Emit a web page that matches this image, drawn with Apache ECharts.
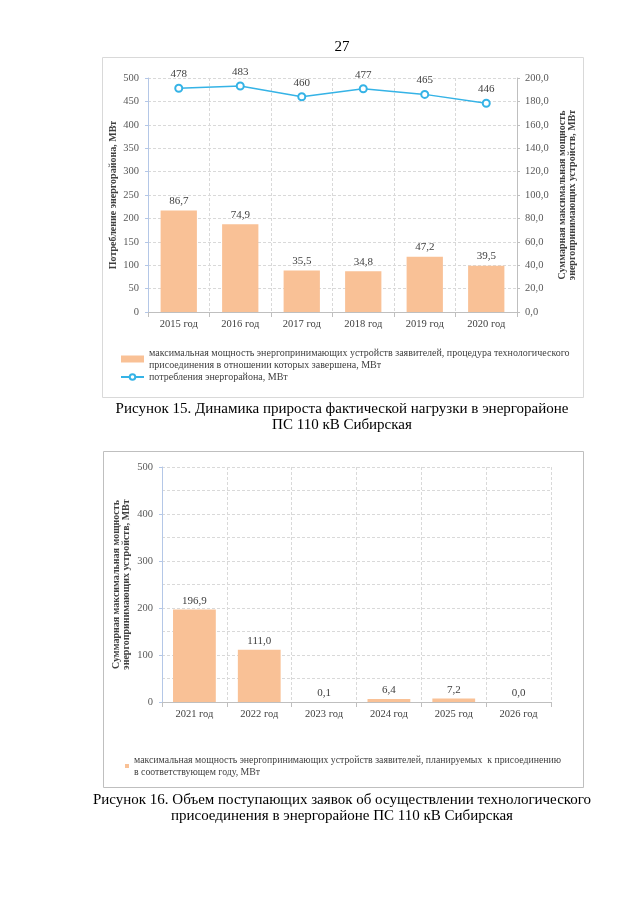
<!DOCTYPE html>
<html><head><meta charset="utf-8">
<script src="https://cdn.jsdelivr.net/npm/echarts@6/dist/echarts.min.js"></script>
<style>html,body{margin:0;padding:0;background:#fff}#c{width:640px;height:905px}</style>
</head><body><div id="c"></div>
<script>
// ---- data ----
const years1 = ['2015 год', '2016 год', '2017 год', '2018 год', '2019 год', '2020 год'];
const consumption = [478, 483, 460, 477, 465, 446];
const connectedPower = [86.7, 74.9, 35.5, 34.8, 47.2, 39.5];
const years2 = ['2021 год', '2022 год', '2023 год', '2024 год', '2025 год', '2026 год'];
const plannedPower = [196.9, 111.0, 0.1, 6.4, 7.2, 0.0];

const nameBar1 = 'максимальная мощность энергопринимающих устройств заявителей, процедура технологического\nприсоединения в отношении которых завершена, МВт';
const nameLine1 = 'потребления энергорайона, МВт';
const nameBar2 = 'максимальная мощность энергопринимающих устройств заявителей, планируемых  к присоединению\nв соответствующем году, МВт';

const SERIF = 'Liberation Serif';
const comma = v => v.toFixed(1).replace('.', ',');
const gridLine = {show: true, lineStyle: {color: '#d9d9d9', type: [3, 2], width: 1}};
const tickColor = '#595959';
const barColor = '#f9c196';
const lineColor = '#35b3e6';

const chart = echarts.init(document.getElementById('c'), null, {renderer: 'canvas'});
chart.setOption({
  animation: false,
  textStyle: {fontFamily: SERIF},
  grid: [
    {left: 148, right: 123, top: 78, bottom: 593},
    {left: 162, right: 89, top: 467, bottom: 203}
  ],
  xAxis: [
    {type: 'category', gridIndex: 0, data: years1,
     axisLine: {lineStyle: {color: '#bfbfbf'}},
     axisTick: {show: true, lineStyle: {color: '#bfbfbf'}},
     axisLabel: {color: '#404040', fontSize: 10.5, fontFamily: SERIF, margin: 7},
     splitLine: gridLine},
    {type: 'category', gridIndex: 1, data: years2,
     axisLine: {lineStyle: {color: '#bfbfbf'}},
     axisTick: {show: true, lineStyle: {color: '#bfbfbf'}},
     axisLabel: {color: '#404040', fontSize: 10.5, fontFamily: SERIF, margin: 7},
     splitLine: gridLine}
  ],
  yAxis: [
    {type: 'value', gridIndex: 0, min: 0, max: 500, interval: 50, position: 'left',
     name: 'Потребление энергорайона, МВт', nameLocation: 'middle', nameRotate: 90, nameGap: 30, nameMoveOverlap: false,
     nameTextStyle: {fontFamily: SERIF, fontWeight: 'bold', fontSize: 10, color: '#404040'},
     axisLine: {show: true, lineStyle: {color: '#b4c7e7'}},
     axisTick: {show: true, length: 3, lineStyle: {color: '#b4c7e7'}},
     axisLabel: {color: tickColor, fontSize: 10.5, fontFamily: SERIF, margin: 9},
     splitLine: gridLine},
    {type: 'value', gridIndex: 0, min: 0, max: 200, interval: 20, position: 'right',
     name: 'Суммарная максимальная мощность\nэнергопринимающих устройств, МВт', nameLocation: 'middle', nameRotate: 90, nameGap: 40, nameMoveOverlap: false,
     nameTextStyle: {fontFamily: SERIF, fontWeight: 'bold', fontSize: 10, color: '#404040', lineHeight: 10},
     axisLine: {show: true, lineStyle: {color: '#bfbfbf'}},
     axisTick: {show: true, length: 3, lineStyle: {color: '#bfbfbf'}},
     axisLabel: {color: tickColor, fontSize: 10.5, fontFamily: SERIF, margin: 8, formatter: v => comma(v)},
     splitLine: {show: false}},
    {type: 'value', gridIndex: 1, min: 0, max: 500, interval: 100,
     name: 'Суммарная максимальная мощность\nэнергопринимающих устройств, МВт', nameLocation: 'middle', nameRotate: 90, nameGap: 31, nameMoveOverlap: false,
     nameTextStyle: {fontFamily: SERIF, fontWeight: 'bold', fontSize: 10, color: '#404040', lineHeight: 10},
     axisLine: {show: true, lineStyle: {color: '#b4c7e7'}},
     axisTick: {show: true, length: 3, lineStyle: {color: '#b4c7e7'}},
     axisLabel: {color: tickColor, fontSize: 10.5, fontFamily: SERIF, margin: 9},
     splitLine: gridLine,
     minorTick: {show: false, splitNumber: 2},
     minorSplitLine: {show: true, lineStyle: {color: '#d9d9d9', type: [3, 2], width: 1}}}
  ],
  legend: [
    {orient: 'vertical', left: 115, top: 342, itemGap: 0, itemWidth: 23, itemHeight: 7,
     data: [{name: nameBar1, icon: 'rect', itemStyle: {color: barColor}}, {name: nameLine1}],
     textStyle: {fontFamily: SERIF, fontSize: 10, color: '#404040', lineHeight: 12},
     selectedMode: false},
    {orient: 'vertical', left: 120, top: 749, itemWidth: 4, itemHeight: 4,
     data: [{name: nameBar2, icon: 'rect'}],
     textStyle: {fontFamily: SERIF, fontSize: 9.8, color: '#404040', lineHeight: 12},
     selectedMode: false}
  ],
  series: [
    {type: 'bar', name: nameBar1, xAxisIndex: 0, yAxisIndex: 1, data: connectedPower,
     barWidth: '59%', itemStyle: {color: barColor},
     label: {show: true, position: 'top', distance: 4, color: '#404040', fontSize: 11, fontFamily: SERIF, formatter: p => comma(p.value)}},
    {type: 'line', name: nameLine1, xAxisIndex: 0, yAxisIndex: 0, data: consumption,
     symbol: 'emptyCircle', symbolSize: 7, lineStyle: {color: lineColor, width: 1.5},
     itemStyle: {color: lineColor, borderWidth: 1.5},
     label: {show: true, position: 'top', distance: 4, color: '#404040', fontSize: 11, fontFamily: SERIF}},
    {type: 'bar', name: nameBar2, xAxisIndex: 1, yAxisIndex: 2, data: plannedPower,
     barWidth: '66%', itemStyle: {color: barColor},
     label: {show: true, position: 'top', distance: 3, color: '#404040', fontSize: 11, fontFamily: SERIF, formatter: p => comma(p.value)}}
  ],
  graphic: [
    {type: 'rect', shape: {x: 102.5, y: 57.5, width: 481, height: 340}, style: {fill: 'none', stroke: '#d9d9d9', lineWidth: 1}, z: -1},
    {type: 'rect', shape: {x: 103.5, y: 451.5, width: 480, height: 336}, style: {fill: 'none', stroke: '#bfbfbf', lineWidth: 1}, z: -1},
    {type: 'text', x: 342, y: 47, style: {text: '27', font: '15px "Liberation Serif"', fill: '#000', align: 'center', verticalAlign: 'middle'}},
    {type: 'text', x: 342, y: 417, style: {text: 'Рисунок 15. Динамика прироста фактической нагрузки в энергорайоне\nПС 110 кВ Сибирская', font: '15px "Liberation Serif"', fill: '#000', align: 'center', verticalAlign: 'middle', lineHeight: 16}},
    {type: 'text', x: 342, y: 808, style: {text: 'Рисунок 16. Объем поступающих заявок об осуществлении технологического\nприсоединения в энергорайоне ПС 110 кВ Сибирская', font: '15px "Liberation Serif"', fill: '#000', align: 'center', verticalAlign: 'middle', lineHeight: 16}}
  ]
});
</script>
</body></html>
